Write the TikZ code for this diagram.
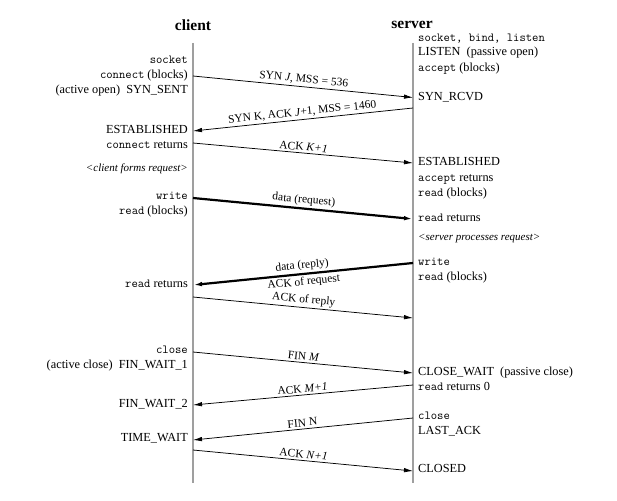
\documentclass[tikz,border=0pt]{standalone}
\usepackage{fontspec}
\setmainfont{Liberation Serif}
\usetikzlibrary{arrows.meta}

\begin{document}
\begin{tikzpicture}[x=1pt, y=-1pt,
    life/.style = {draw=gray!75, line width=1.4pt},
    msg/.style = {-{Latex[length=9pt, width=4.5pt]}, line width=0.75pt},
    bigmsg/.style = {msg, line width=2.2pt},
    clbl/.style = {anchor=mid east, inner sep=0pt, font=\fontsize{12.3}{14}\selectfont},
    slbl/.style = {anchor=mid west, inner sep=0pt, font=\fontsize{12.3}{14}\selectfont},
    note/.style = {inner sep=0pt, font=\itshape\fontsize{11}{13}\selectfont},
    tag/.style = {midway, sloped, inner sep=2pt, font=\fontsize{11.5}{13}\selectfont}]

    \useasboundingbox (0, 0) rectangle (617, 500);

    % hosts and time lines
    \node[font=\bfseries\fontsize{15.5}{17}\selectfont] (client) at (193, 25) {client};
    \node[font=\bfseries\fontsize{15.5}{17}\selectfont] (server) at (412, 25) {server};
    \coordinate (ctop) at (193, 43);
    \coordinate (cbot) at (193, 483);
    \coordinate (stop) at (413, 43);
    \coordinate (sbot) at (413, 483);
    \draw[life] (ctop) -- (cbot);
    \draw[life] (stop) -- (sbot);

    % client side
    \node[clbl] (csocket) at (188, 61) {\texttt{socket}};
    \node[clbl] (cconnect) at (188, 76) {\texttt{connect} (blocks)};
    \node[clbl] (csynsent) at (188, 91) {(active open)\ \ SYN\_SENT};
    \node[clbl] (cestab) at (188, 131) {ESTABLISHED};
    \node[clbl] (cconret) at (188, 146) {\texttt{connect} returns};
    \node[note, anchor=mid east] (cforms) at (188, 169) {<client forms request>};
    \node[clbl] (cwrite) at (188, 197) {\texttt{write}};
    \node[clbl] (cread) at (188, 212) {\texttt{read} (blocks)};
    \node[clbl] (creadret) at (188, 285) {\texttt{read} returns};
    \node[clbl] (cclose) at (188, 351) {\texttt{close}};
    \node[clbl] (cfin1) at (188, 366) {(active close)\ \ FIN\_WAIT\_1};
    \node[clbl] (cfin2) at (188, 405) {FIN\_WAIT\_2};
    \node[clbl] (ctime) at (188, 439) {TIME\_WAIT};

    % server side
    \node[slbl] (ssocket) at (418, 39) {\texttt{socket, bind, listen}};
    \node[slbl] (slisten) at (418, 53) {LISTEN\ \ (passive open)};
    \node[slbl] (saccept) at (418, 69) {\texttt{accept} (blocks)};
    \node[slbl] (ssynrcvd) at (418, 98) {SYN\_RCVD};
    \node[slbl] (sestab) at (418, 163) {ESTABLISHED};
    \node[slbl] (saccret) at (418, 179) {\texttt{accept} returns};
    \node[slbl] (sread) at (418, 194) {\texttt{read} (blocks)};
    \node[slbl] (sreadret) at (418, 219) {\texttt{read} returns};
    \node[note, anchor=mid west] (sproc) at (418, 238) {<server processes request>};
    \node[slbl] (swrite) at (418, 263) {\texttt{write}};
    \node[slbl] (sread2) at (418, 278) {\texttt{read} (blocks)};
    \node[slbl] (sclosew) at (418, 373) {CLOSE\_WAIT\ \ (passive close)};
    \node[slbl] (sreadzero) at (418, 388) {\texttt{read} returns 0};
    \node[slbl] (sclose) at (418, 417) {\texttt{close}};
    \node[slbl] (slast) at (418, 432) {LAST\_ACK};
    \node[slbl] (sclosed) at (418, 470) {CLOSED};

    % segments
    \coordinate (c1) at (193, 76);    \coordinate (s1) at (413, 97.5);
    \coordinate (s2) at (413, 108);   \coordinate (c2) at (193, 131);
    \coordinate (c3) at (193, 143);   \coordinate (s3) at (413, 163);
    \coordinate (c4) at (193, 198);   \coordinate (s4) at (413, 219);
    \coordinate (s5) at (413, 263);   \coordinate (c5) at (193, 285);
    \coordinate (c6) at (193, 297);   \coordinate (s6) at (413, 318);
    \coordinate (c7) at (193, 352);   \coordinate (s7) at (413, 373);
    \coordinate (s8) at (413, 385);   \coordinate (c8) at (193, 405);
    \coordinate (s9) at (413, 418);   \coordinate (c9) at (193, 440);
    \coordinate (c10) at (193, 450);  \coordinate (s10) at (413, 471);

    \draw[msg] (c1) -- (s1) node[tag, above]{SYN \textit{J}, MSS = 536};
    \draw[msg] (s2) -- (c2) node[tag, above]{SYN K, ACK \textit{J}+1, MSS = 1460};
    \draw[msg] (c3) -- (s3) node[tag, above]{ACK \textit{K+1}};
    \draw[bigmsg] (c4) -- (s4) node[tag, above]{data (request)};
    \draw[bigmsg] (s5) -- (c5) node[tag, above]{data (reply)} node[tag, below]{ACK of request};
    \draw[msg] (c6) -- (s6) node[tag, above]{ACK of reply};
    \draw[msg] (c7) -- (s7) node[tag, above]{FIN \textit{M}};
    \draw[msg] (s8) -- (c8) node[tag, above]{ACK \textit{M+1}};
    \draw[msg] (s9) -- (c9) node[tag, above]{FIN N};
    \draw[msg] (c10) -- (s10) node[tag, above]{ACK \textit{N+1}};
\end{tikzpicture}
\end{document}
